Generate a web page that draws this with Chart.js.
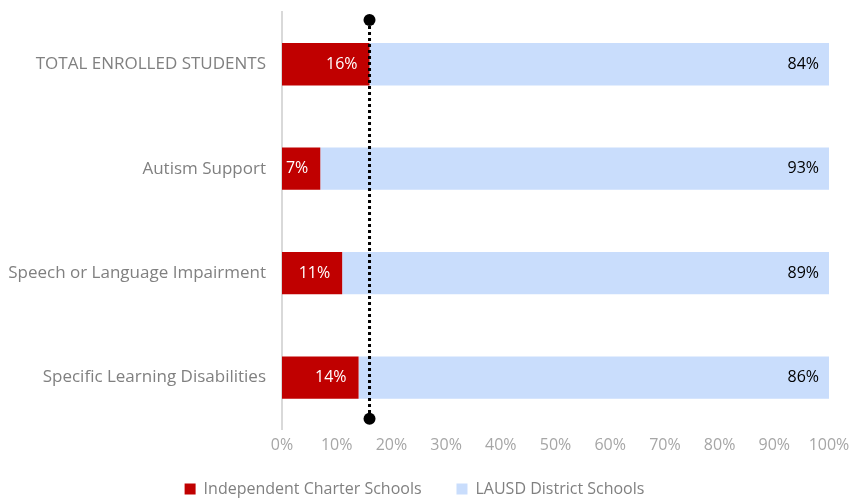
<!DOCTYPE html>
<html><head><meta charset="utf-8">
<script src="https://cdn.jsdelivr.net/npm/chart.js@4"></script>
<style>html,body{margin:0;padding:0;background:#fff}#wrap{width:856px;height:498px}</style>
</head><body><div id="wrap"><canvas id="c" width="856" height="498"></canvas></div>
<script>
const categories = ["TOTAL ENROLLED STUDENTS","Autism Support","Speech or Language Impairment","Specific Learning Disabilities"];
const charterValues = [16, 7, 11, 14];
const districtValues = [84, 93, 89, 86];
const seriesNames = ["Independent Charter Schools","LAUSD District Schools"];
const referenceValue = 16;
const FONT = "'Open Sans', Lato, sans-serif";

const refLine = {
  id: 'refLine',
  afterDatasetsDraw(chart) {
    const {ctx, chartArea, scales} = chart;
    const x = scales.x.getPixelForValue(referenceValue);
    const top = chartArea.top + 8, bottom = chartArea.bottom - 11;
    ctx.save();
    ctx.strokeStyle = '#000'; ctx.lineWidth = 3; ctx.setLineDash([3,3]);
    ctx.beginPath(); ctx.moveTo(x, top); ctx.lineTo(x, bottom); ctx.stroke();
    ctx.setLineDash([]); ctx.fillStyle = '#000';
    [top, bottom].forEach(y => { ctx.beginPath(); ctx.arc(x, y, 6, 0, Math.PI*2); ctx.fill(); });
    ctx.restore();
  }
};
const labelsPlugin = {
  id: 'valLabels',
  afterDatasetsDraw(chart) {
    const {ctx} = chart;
    ctx.save();
    ctx.font = "16px " + FONT; ctx.textBaseline = 'middle'; ctx.textAlign = 'right';
    chart.getDatasetMeta(0).data.forEach((bar, i) => {
      ctx.fillStyle = '#fff';
      ctx.fillText(charterValues[i] + '%', bar.x - 12, bar.y);
    });
    chart.getDatasetMeta(1).data.forEach((bar, i) => {
      ctx.fillStyle = '#000';
      ctx.fillText(districtValues[i] + '%', bar.x - 10, bar.y);
    });
    ctx.restore();
  }
};

new Chart(document.getElementById('c'), {
  type: 'bar',
  data: {
    labels: categories,
    datasets: [
      {label: seriesNames[0], data: charterValues, backgroundColor: '#c00000', barPercentage: 0.81, categoryPercentage: 0.5},
      {label: seriesNames[1], data: districtValues, backgroundColor: '#c9ddfc', barPercentage: 0.81, categoryPercentage: 0.5}
    ]
  },
  options: {
    indexAxis: 'y', responsive: false, animation: false,
    layout: {padding: {top: 12, right: 27, left: 0, bottom: -9}},
    scales: {
      x: {stacked: true, min: 0, max: 100,
        afterFit: s => { s.height += 10; s.paddingRight = 0; },
        ticks: {stepSize: 10, callback: v => v + '%', color: '#a6a6a6', font: {family: FONT, size: 16}, padding: 6},
        grid: {display: false, drawTicks: false}, border: {display: false}},
      y: {stacked: true,
        afterFit: s => { s.width = 282; s.paddingTop = 0; s.paddingBottom = 0; },
        ticks: {color: '#808080', font: {family: FONT, size: 17}, padding: 16},
        grid: {display: false, drawTicks: false}, border: {display: true, color: '#d9d9d9', width: 2}}
    },
    plugins: {
      legend: {position: 'bottom', labels: {color: '#808080', font: {family: FONT, size: 16}, boxWidth: 11, boxHeight: 11, padding: 10,
        generateLabels: chart => Chart.defaults.plugins.legend.labels.generateLabels(chart).map((l, i) => { if (i === 0) l.text = l.text + '      '; return l; })}},
      tooltip: {enabled: false}
    }
  },
  plugins: [refLine, labelsPlugin]
});
</script></body></html>
